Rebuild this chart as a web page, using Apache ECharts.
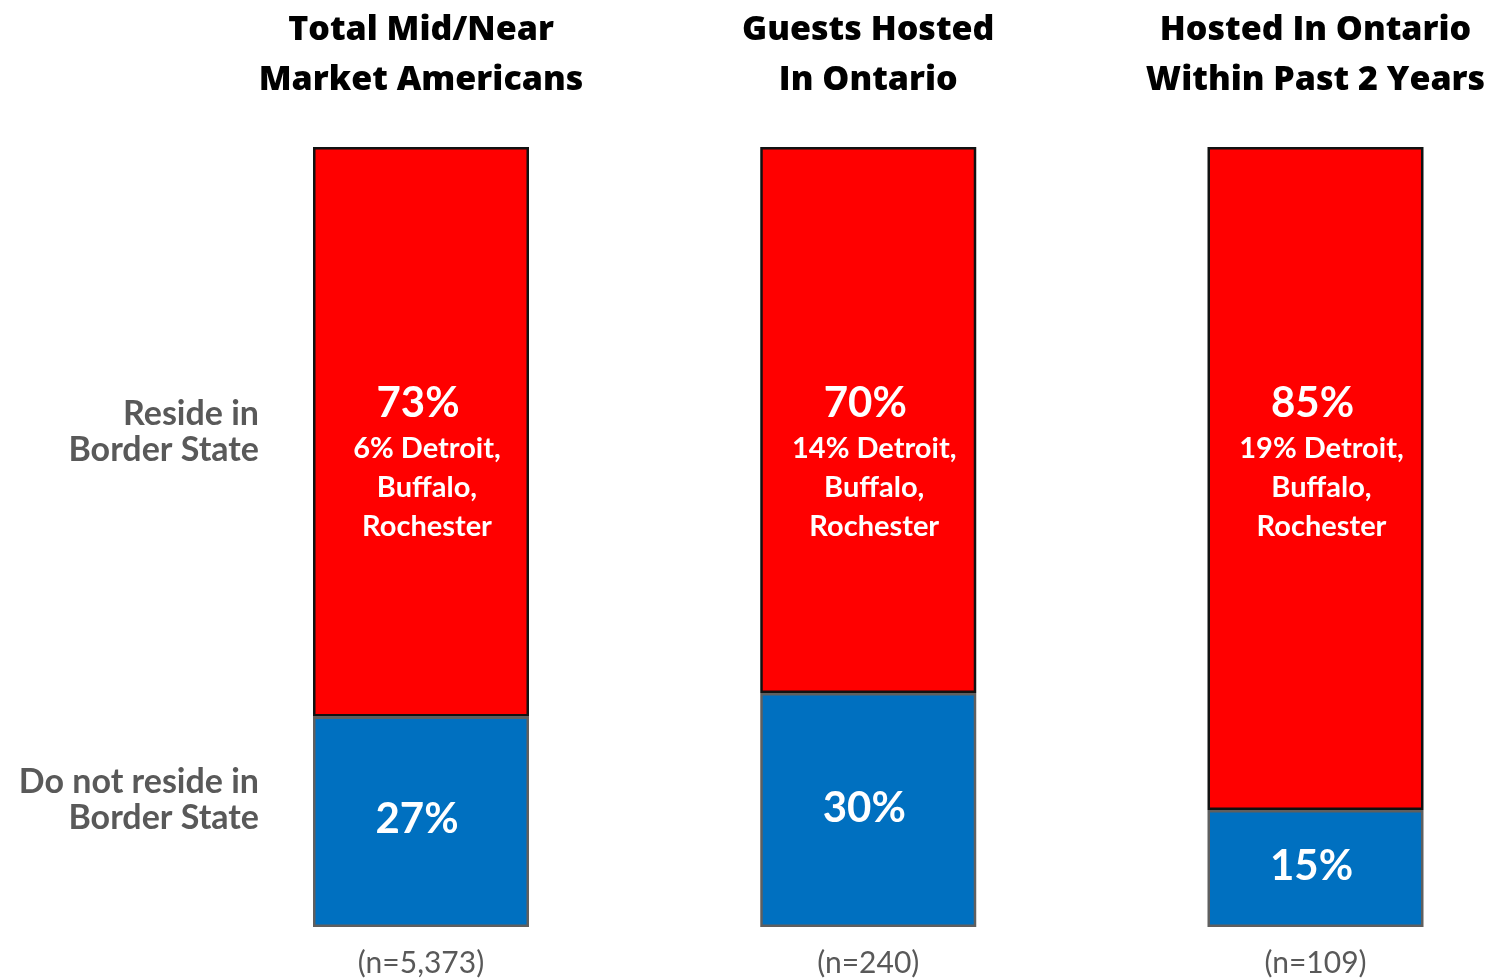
<!DOCTYPE html>
<html>
<head>
<meta charset="utf-8">
<script src="https://cdn.jsdelivr.net/npm/echarts@6/dist/echarts.min.js"></script>
<style>
html,body{margin:0;padding:0;background:#fff;}
#chart{width:1491px;height:979px;}
</style>
</head>
<body>
<div id="chart"></div>
<script>
const categories = ['Total Mid/Near\nMarket Americans', 'Guests Hosted\nIn Ontario', 'Hosted In Ontario\nWithin Past 2 Years'];
const sampleLabels = ['(n=5,373)', '(n=240)', '(n=109)'];
const resideBorder = [73, 70, 85];
const cityShare = [6, 14, 19];
const notResideBorder = [27, 30, 15];
const seriesNames = ['Reside in\nBorder State', 'Do not reside in\nBorder State'];

const chart = echarts.init(document.getElementById('chart'));
const FONT = 'Lato';
chart.setOption({
  animation: false,
  backgroundColor: '#ffffff',
  grid: { left: 421, top: 147, right: 175.5, height: 780 },
  xAxis: [
    {
      type: 'category', data: categories, position: 'top', boundaryGap: false,
      axisLine: { show: false }, axisTick: { show: false }, splitLine: { show: false },
      axisLabel: { margin: 42, fontFamily: 'Open Sans', fontWeight: 800, fontSize: 34, lineHeight: 50, color: '#000' }
    },
    {
      type: 'category', data: sampleLabels, position: 'bottom', boundaryGap: false,
      axisLine: { show: false }, axisTick: { show: false }, splitLine: { show: false },
      axisLabel: { margin: 21, fontFamily: FONT, fontSize: 30, color: '#595959' }
    }
  ],
  yAxis: { type: 'value', min: 0, max: 100, show: false },
  series: [
    {
      name: seriesNames[1], type: 'bar', stack: 'total', xAxisIndex: 0, clip: false,
      barWidth: 216, data: notResideBorder,
      itemStyle: { color: '#0070C0', borderColor: '#5f5f5f', borderWidth: 2.5 },
      label: {
        show: true, position: 'inside', offset: [-4, -2],
        formatter: p => p.value + '%',
        fontFamily: FONT, fontWeight: 'bold', fontSize: 42, color: '#fff'
      }
    },
    {
      name: seriesNames[0], type: 'bar', stack: 'total', xAxisIndex: 0, clip: false,
      barWidth: 216, data: resideBorder,
      itemStyle: { color: '#FF0000', borderColor: '#111', borderWidth: 2.5 },
      label: {
        show: true, position: ['50%', 230], offset: [6, 0], align: 'center', verticalAlign: 'top',
        formatter: p => '{big|' + p.value + '%}\n{small|' + cityShare[p.dataIndex] + '% Detroit,}\n{small|Buffalo,}\n{small|Rochester}',
        color: '#fff',
        rich: {
          big: { fontFamily: FONT, fontWeight: 'bold', fontSize: 42, lineHeight: 52, color: '#fff', padding: [0, 18, 0, 0] },
          small: { fontFamily: FONT, fontWeight: 'bold', fontSize: 29, lineHeight: 39, color: '#fff' }
        }
      }
    }
  ],
  graphic: [
    { type: 'text', x: 259, y: 396, style: { text: seriesNames[0], align: 'right', verticalAlign: 'top', fontFamily: FONT, fontWeight: 'bold', fontSize: 34, lineHeight: 36, fill: '#595959' } },
    { type: 'text', x: 259, y: 764, style: { text: seriesNames[1], align: 'right', verticalAlign: 'top', fontFamily: FONT, fontWeight: 'bold', fontSize: 34, lineHeight: 36, fill: '#595959' } }
  ]
});
</script>
</body>
</html>
